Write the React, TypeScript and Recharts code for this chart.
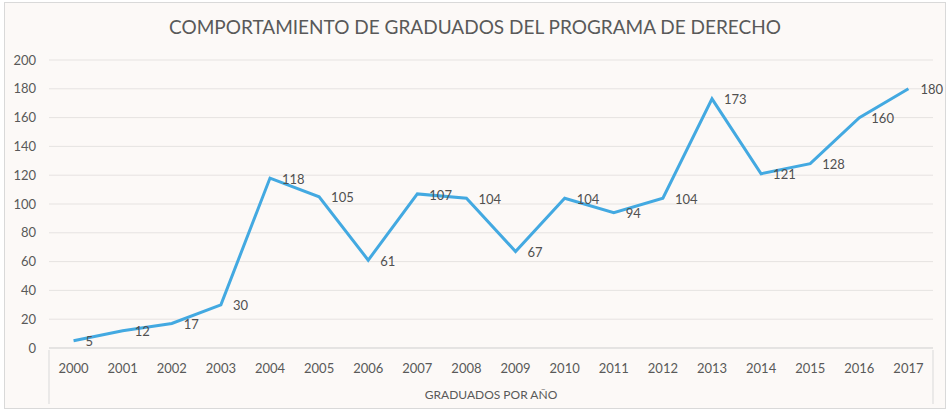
import { CartesianGrid, LabelList, Line, LineChart, XAxis, YAxis } from "recharts";

const years = [
  "2000", "2001", "2002", "2003", "2004", "2005", "2006", "2007", "2008",
  "2009", "2010", "2011", "2012", "2013", "2014", "2015", "2016", "2017",
];
const graduados = [5, 12, 17, 30, 118, 105, 61, 107, 104, 67, 104, 94, 104, 173, 121, 128, 160, 180];
const yTicks = [0, 20, 40, 60, 80, 100, 120, 140, 160, 180, 200];

const data = years.map((y, i) => ({ year: y, value: graduados[i] }));

const W = 950;
const H = 412;
const M = { top: 60, right: 17, bottom: 10, left: 0 };
const Y_W = 49;
const FONT = "Lato, 'Open Sans', sans-serif";
const band = (W - M.left - M.right - Y_W) / years.length;

function YearTick(props: any) {
  const { x, y, payload, index } = props;
  const edges: number[] = [];
  if (index === 0) edges.push(x - band / 2);
  if (index === years.length - 1) edges.push(x + band / 2);
  return (
    <g>
      {edges.map((ex) => (
        <line key={ex} x1={ex} x2={ex} y1={y} y2={y + 54} stroke="#d9d9d9" />
      ))}
      <text x={x} y={y + 23} textAnchor="middle" fill="#595959" fontSize={13} fontFamily={FONT}>
        {payload.value}
      </text>
    </g>
  );
}

export default function App() {
  return (
    <div style={{ position: "absolute", left: 0, top: 0, width: W, height: H, background: "#fff" }}>
      <div
        style={{
          position: "absolute",
          left: 4,
          top: 2,
          width: 940,
          height: 405,
          background: "#fcf9f7",
          border: "1px solid #d9d9d9",
        }}
      />
      <div
        style={{
          position: "absolute",
          left: 0,
          top: 15,
          width: W,
          textAlign: "center",
          fontFamily: FONT,
          fontSize: 19,
          color: "#595959",
        }}
      >
        COMPORTAMIENTO DE GRADUADOS DEL PROGRAMA DE DERECHO
      </div>
      <div style={{ position: "absolute", left: 0, top: 0 }}>
        <LineChart width={W} height={H} data={data} margin={M}>
          <CartesianGrid vertical={false} stroke="#e6e3e1" />
          <XAxis
            dataKey="year"
            height={54}
            padding={{ left: band / 2, right: band / 2 }}
            axisLine={{ stroke: "#d9d9d9" }}
            tickLine={false}
            tickSize={0}
            interval={0}
            tick={<YearTick />}
            label={{
              value: "GRADUADOS POR AÑO",
              position: "insideBottom",
              offset: 3,
              fill: "#595959",
              fontSize: 12,
              fontFamily: FONT,
            }}
          />
          <YAxis
            width={Y_W}
            domain={[0, 200]}
            ticks={yTicks}
            axisLine={false}
            tickLine={false}
            tickSize={0}
            tickMargin={13}
            tick={{ fill: "#595959", fontSize: 13, fontFamily: FONT }}
          />
          <Line
            dataKey="value"
            type="linear"
            stroke="#43a9e1"
            strokeWidth={3}
            dot={false}
            isAnimationActive={false}
          >
            <LabelList
              dataKey="value"
              position="right"
              offset={12}
              dy={1}
              fill="#505050"
              fontSize={13}
              fontFamily={FONT}
            />
          </Line>
        </LineChart>
      </div>
    </div>
  );
}
